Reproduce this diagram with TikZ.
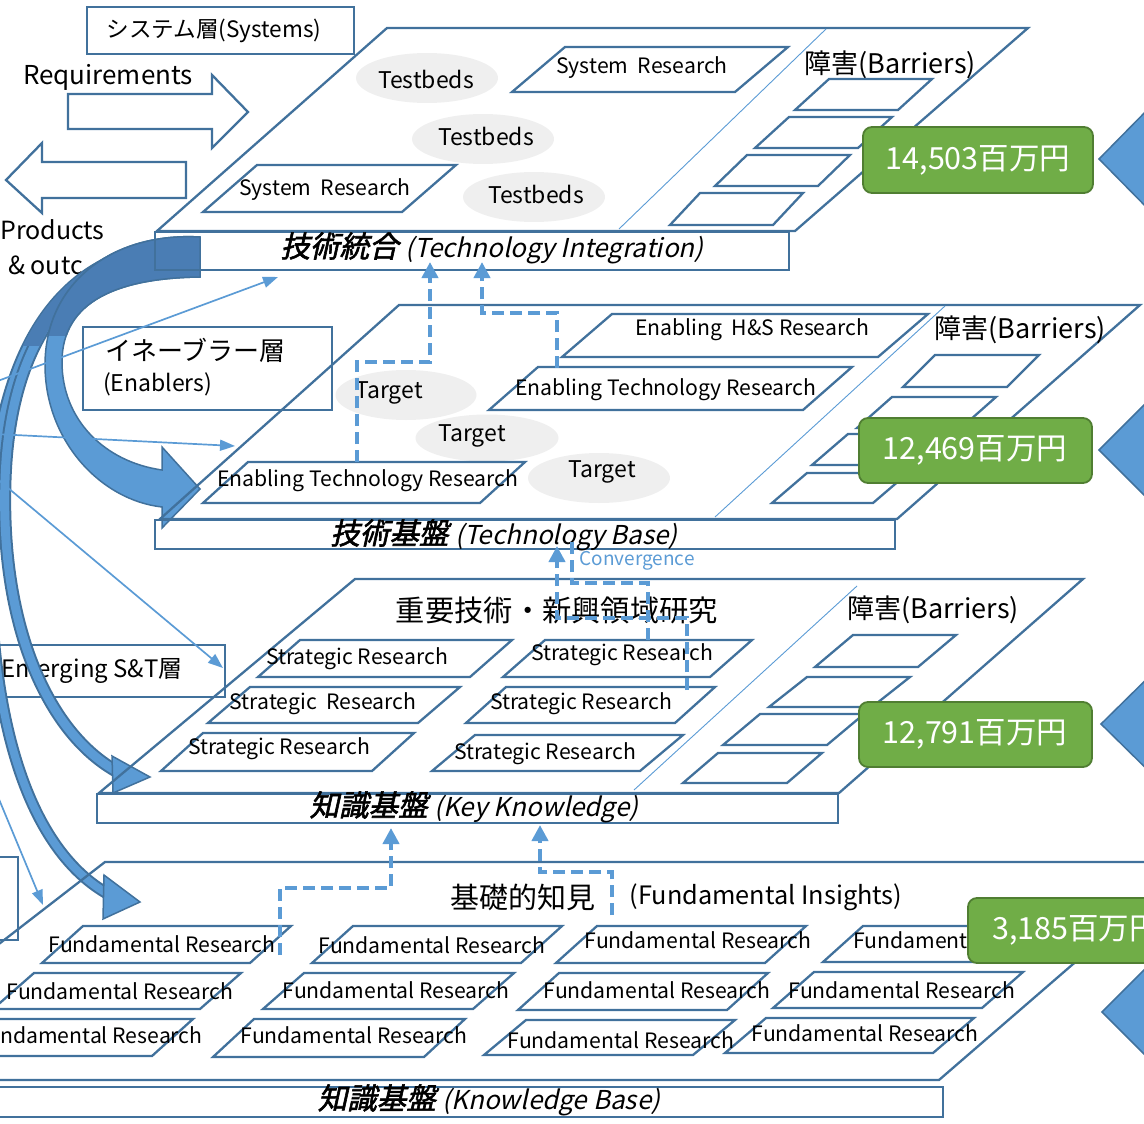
\documentclass[tikz,border=0pt]{standalone}
\usepackage{fontspec}
\setmainfont{Noto Sans CJK JP}
\newfontfamily\bifont{Noto Sans CJK JP}[FakeSlant=0.22,FakeBold=2]
\newfontfamily\itfont{Noto Sans CJK JP}[FakeSlant=0.22]
\usetikzlibrary{arrows.meta,shapes.geometric}
\definecolor{bd}{HTML}{41719C}
\definecolor{lb}{HTML}{5B9BD5}
\definecolor{gf}{HTML}{70AD47}
\definecolor{gd}{HTML}{507E32}
\definecolor{eg}{HTML}{EFEFEF}
\definecolor{dk}{HTML}{4A7DB4}
\newcommand\pgm[5]{\draw[pbox] (#1,#2) -- ++(#3,0) -- ++(#5,-#4) -- ++(-#3,0) -- cycle;}
\newcommand\ttlfont[2]{{\bifont\fontsize{29.5}{32}\selectfont #1}\hspace{7pt}{\itfont\fontsize{26}{30}\selectfont #2}}
\tikzset{
  pbox/.style={draw=bd, line width=2.3pt},
  plane/.style={draw=bd, line width=2.3pt},
  rbox/.style={draw=bd, line width=2pt, inner sep=0pt},
  thinl/.style={draw=lb, line width=0.9pt},
  tarr/.style={draw=lb, line width=1.7pt, -{Triangle[length=15pt,width=11pt]}},
  dsh/.style={draw=lb, line width=4.5pt, dash pattern=on 12pt off 6pt},
  dsharr/.style={dsh, -{Triangle[length=16pt,width=16pt]}},
  ell/.style={ellipse, fill=eg, inner sep=0pt, minimum width=142pt, minimum height=50pt},
  t21/.style={inner sep=0pt, font=\fontsize{21.2}{24}\selectfont},
  t23/.style={inner sep=0pt, font=\fontsize{23}{26}\selectfont},
  t27/.style={inner sep=0pt, font=\fontsize{27}{30}\selectfont},
  ttl/.style={inner sep=0pt},
  gbox/.style={draw=gd, fill=gf, line width=1.8pt, rounded corners=9pt, inner sep=0pt},
  gtxt/.style={inner sep=0pt, text=white, font=\fontsize{30.5}{32}\selectfont},
  btri/.style={fill=lb, draw=bd, line width=1.5pt},
  bigarr/.style={fill=lb, draw=bd, line width=1.5pt},
}
\begin{document}
\begin{tikzpicture}[x=1pt,y=-1pt]
\useasboundingbox (0,0) rectangle (1144,1124);
\clip (0,0) rectangle (1144,1124);

% ---------- left labels ----------
\node[rbox, minimum width=267pt, minimum height=47pt] (sysbox) at (220.5,30.5) {};
\node[inner sep=0pt, font=\fontsize{22.6}{26}\selectfont] (systxt) at (214,31) {システム層(Systems)};
\draw[plane, fill=white] (68,94) -- (212,94) -- (212,75) -- (248,112) -- (212,148) -- (212,129) -- (68,129) -- cycle;
\draw[plane, fill=white] (186,162) -- (42,162) -- (42,143) -- (6,180) -- (42,213) -- (42,198) -- (186,198) -- cycle;
\node[inner sep=0pt, font=\fontsize{26}{30}\selectfont] (req) at (108,77) {Requirements};
\node[inner sep=0pt, font=\fontsize{25}{30}\selectfont, anchor=west] (prod) at (0,230) {Products};
\node[inner sep=0pt, font=\fontsize{25}{30}\selectfont, anchor=west] (outc) at (8,265) {\& outc};
\node[rbox, minimum width=249pt, minimum height=83pt] (enbox) at (207.5,368.5) {};
\node[inner sep=0pt, font=\fontsize{26}{28}\selectfont, anchor=west] (entxt1) at (105,350) {イネーブラー層};
\node[inner sep=0pt, font=\fontsize{23}{28}\selectfont, anchor=west] (entxt2) at (103,384) {(Enablers)};
\node[rbox, minimum width=240pt, minimum height=52pt] (embox) at (105,671) {};
\node[inner sep=0pt, font=\fontsize{24}{28}\selectfont, anchor=west] (emtxt) at (1,671) {Emerging S\&T層};
\node[rbox, minimum width=40pt, minimum height=83pt] (smbox) at (-2,898.5) {};

% ---------- big curved arrows ----------
\draw[bd, line width=12pt] (190,245) .. controls (60,245) and (-12,350) .. (-10,560) .. controls (-8,760) and (45,860) .. (110,895);
\draw[lb, line width=8pt] (190,245) .. controls (60,245) and (-12,350) .. (-10,560) .. controls (-8,760) and (45,860) .. (110,895);
\filldraw[bigarr] (104,875) -- (140,902) -- (103,919) -- cycle;
\draw[bd, line width=13pt] (190,252) .. controls (80,250) and (10,330) .. (5,480) .. controls (0,630) and (50,735) .. (118,772);
\draw[lb, line width=9pt] (190,252) .. controls (80,250) and (10,330) .. (5,480) .. controls (0,630) and (50,735) .. (118,772);
\filldraw[bigarr] (112,756) -- (150,777) -- (113,793) -- cycle;
\begin{scope}
  \clip (-20,200) rectangle (220,345);
  \draw[dk, line width=9pt] (190,245) .. controls (60,245) and (-12,350) .. (-10,560);
  \draw[dk, line width=9pt] (190,252) .. controls (80,250) and (10,330) .. (5,480);
\end{scope}
\filldraw[bigarr] (200,237) .. controls (110,232) and (45,285) .. (45,365) .. controls (45,440) and (100,500) .. (162,507) -- (162,528) -- (200,489) -- (162,447) -- (162,470) .. controls (105,462) and (62,420) .. (62,362) .. controls (62,300) and (120,278) .. (200,277) -- cycle;
\begin{scope}
  \clip (0,200) rectangle (220,335);
  \filldraw[fill=dk, draw=bd, line width=1.5pt] (200,237) .. controls (110,232) and (45,285) .. (45,365) .. controls (45,440) and (100,500) .. (162,507) -- (162,528) -- (200,489) -- (162,447) -- (162,470) .. controls (105,462) and (62,420) .. (62,362) .. controls (62,300) and (120,278) .. (200,277) -- cycle;
\end{scope}

% ---------- thin arrows ----------
\coordinate (s1) at (-5,382);
\coordinate (s2) at (-5,434);
\coordinate (s3) at (-5,477);
\coordinate (s4) at (-9,780);
\draw[tarr] (s1) -- (278,277);
\draw[tarr] (s2) -- (235,446);
\draw[tarr] (s3) -- (223,668);
\draw[tarr] (s4) -- (43,905);

% ---------- layer 1 : Technology Integration ----------
\draw[plane] (387,28) -- (1028,28) -- (795,231) -- (157,231) -- cycle;
\draw[thinl] (826,29) -- (619,229);
\node[rbox, minimum width=634pt, minimum height=38pt] (tirect) at (472,251) {};
\node[ttl] (tilabel) at (492,248) {\ttlfont{技術統合}{(Technology Integration)}};
\node[ell] (tb1) at (427,78) {};
\node[ell] (tb2) at (483,139) {};
\node[ell] (tb3) at (534,197) {};
\node[t23] at (426,79) {Testbeds};
\node[t23] at (486,136) {Testbeds};
\node[t23] at (536,194) {Testbeds};
\pgm{512}{92}{223}{45}{53}
\pgm{203}{212}{199}{47}{54}
\node[t21] (sr1) at (642,68) {System\ \ Research};
\node[t21] (sr2) at (325,190) {System\ \ Research};
\node[t27] (bar1) at (890,65) {障害(Barriers)};
\pgm{795}{110}{103}{31}{34}
\pgm{755}{148}{103}{31}{34}
\pgm{715}{186}{103}{31}{32}
\pgm{670}{225}{103}{32}{30}

% ---------- layer 2 : Technology Base ----------
\draw[plane] (399,305) -- (1140,305) -- (897,519) -- (160,519) -- cycle;
\draw[thinl] (945,306) -- (715,517);
\node[rbox, minimum width=740pt, minimum height=29pt] (tbrect) at (525,534.5) {};
\node[ttl] (tblabel) at (504,535) {\ttlfont{技術基盤}{(Technology Base)}};
\node[ell, minimum width=141pt] (tg1) at (406,395) {};
\node[ell, minimum width=143pt, minimum height=47pt] (tg2) at (487,438) {};
\node[ell] (tg3) at (599,478) {};
\node[t23] at (389,393) {Target};
\node[t23] at (472,436) {Target};
\node[t23] at (602,472) {Target};
\pgm{562}{357}{316}{43}{50}
\pgm{489}{410}{314}{43}{49}
\pgm{203}{503}{277}{41}{45}
\node[t21] (hs) at (752,330) {Enabling\ \ H\&S Research};
\node[t21] (etr1) at (666,390) {Enabling Technology Research};
\node[t21] (etr2) at (368,481) {Enabling Technology Research};
\node[t27] (bar2) at (1020,330) {障害(Barriers)};
\pgm{903}{387}{104}{32}{32}
\pgm{857}{428}{104}{31}{35}
\pgm{812}{465}{104}{31}{36}
\pgm{772}{503}{101}{30}{35}

% ---------- layer 3 : Key Knowledge ----------
\draw[plane] (355,579) -- (1083,579) -- (839,793) -- (99,793) -- cycle;
\draw[thinl] (857,586) -- (634,790);
\node[rbox, minimum width=741pt, minimum height=29pt] (kkrect) at (467.5,808.5) {};
\node[ttl] (kklabel) at (474,807) {\ttlfont{知識基盤}{(Key Knowledge)}};
\node[inner sep=0pt, font=\fontsize{29.3}{32}\selectfont] (strtitle) at (557,610) {重要技術・新興領域研究};
\pgm{258}{677}{212}{37}{42}
\pgm{208}{723}{210}{36}{42}
\pgm{161}{771}{211}{38}{42}
\pgm{503}{677}{207}{37}{42}
\pgm{466}{723}{209}{36}{40}
\pgm{432}{771}{208}{36}{43}
\node[t21] at (357,659) {Strategic Research};
\node[t21] at (323,704) {Strategic\ \ Research};
\node[t21] at (279,749) {Strategic Research};
\node[t21] at (622,655) {Strategic Research};
\node[t21] at (581,704) {Strategic Research};
\node[t21] at (545,754) {Strategic Research};
\node[t27] (bar3) at (933,610) {障害(Barriers)};
\pgm{815}{667}{103}{32}{38}
\pgm{769}{707}{103}{30}{38}
\pgm{723}{745}{104}{31}{37}
\pgm{683}{783}{104}{30}{35}
\node[inner sep=0pt, text=lb, font=\fontsize{19}{22}\selectfont] (conv) at (637,561) {Convergence};

% ---------- layer 4 : Knowledge Base ----------
\draw[plane] (105,862) -- (1191,862) -- (939,1080) -- (-177,1080) -- cycle;
\node[rbox, minimum width=963pt, minimum height=30pt] (kbrect) at (461.5,1102) {};
\node[ttl] (kblabel) at (489,1100) {\ttlfont{知識基盤}{(Knowledge Base)}};
\node[inner sep=0pt, font=\fontsize{29}{32}\selectfont] (fi1) at (523,897) {基礎的知見};
\node[inner sep=0pt, font=\fontsize{25.3}{30}\selectfont] (fi2) at (766,897) {(Fundamental Insights)};
\pgm{42}{963}{208}{37}{41}
\pgm{-7}{1009}{207}{36}{41}
\pgm{-48}{1056}{200}{37}{41}
\pgm{312}{963}{209}{37}{41}
\pgm{263}{1009}{210}{36}{41}
\pgm{213}{1057}{211}{38}{41}
\pgm{556}{963}{209}{37}{41}
\pgm{518}{1010}{209}{37}{41}
\pgm{484}{1055}{209}{35}{42}
\pgm{823}{962}{210}{36}{40}
\pgm{773}{1008}{209}{36}{41}
\pgm{725}{1053}{208}{35}{41}
\node[t21] at (162,944) {Fundamental Research};
\node[t21] at (120,991) {Fundamental Research};
\node[t21, anchor=west] at (0,1035) {ndamental Research};
\node[t21] at (432,945) {Fundamental Research};
\node[t21] at (396,990) {Fundamental Research};
\node[t21] at (354,1035) {Fundamental Research};
\node[t21] at (698,940) {Fundamental Research};
\node[t21] at (657,990) {Fundamental Research};
\node[t21] at (621,1040) {Fundamental Research};
\node[t21, anchor=west] at (853,940) {Fundamenta};
\node[t21] at (902,990) {Fundamental Research};
\node[t21] at (865,1033) {Fundamental Research};

% ---------- dashed connectors ----------
\coordinate (dE) at (357,462);
\coordinate (dF) at (557,368);
\coordinate (dG) at (687,690);
\coordinate (dH) at (648,640);
\coordinate (dC) at (280,955);
\coordinate (dD) at (612,915);
\draw[dsharr] (dE) -- (357,362) -- (430,362) -- (430,262);
\draw[dsharr] (dF) -- (557,313) -- (482,313) -- (482,262);
\draw[dsharr] (dG) -- (687,618) -- (557,618) -- (557,546);
\draw[dsh] (dH) -- (648,583) -- (572,583) -- (572,537);
\draw[dsharr] (dC) -- (280,888) -- (391,888) -- (391,828);
\draw[dsharr] (dD) -- (612,872) -- (540,872) -- (540,825);

% ---------- budgets ----------
\node[gbox, minimum width=230pt, minimum height=66pt] (g1) at (978,160) {};
\node[gtxt] at (978,160) {14,503百万円};
\node[gbox, minimum width=233pt, minimum height=65pt] (g2) at (975.5,450.5) {};
\node[gtxt] at (975,450) {12,469百万円};
\node[gbox, minimum width=233pt, minimum height=65pt] (g3) at (975.5,734.5) {};
\node[gtxt] at (975,734) {12,791百万円};
\node[gbox, minimum width=200pt, minimum height=65pt] (g4) at (1068,930.5) {};
\node[gtxt, anchor=west] at (992,930) {3,185百万円};
\filldraw[btri] (1099,159) -- (1160,97) -- (1160,221) -- cycle;
\filldraw[btri] (1099,450) -- (1160,389) -- (1160,511) -- cycle;
\filldraw[btri] (1101,724) -- (1160,666) -- (1160,782) -- cycle;
\filldraw[btri] (1102,1012) -- (1160,954) -- (1160,1070) -- cycle;
\end{tikzpicture}
\end{document}
